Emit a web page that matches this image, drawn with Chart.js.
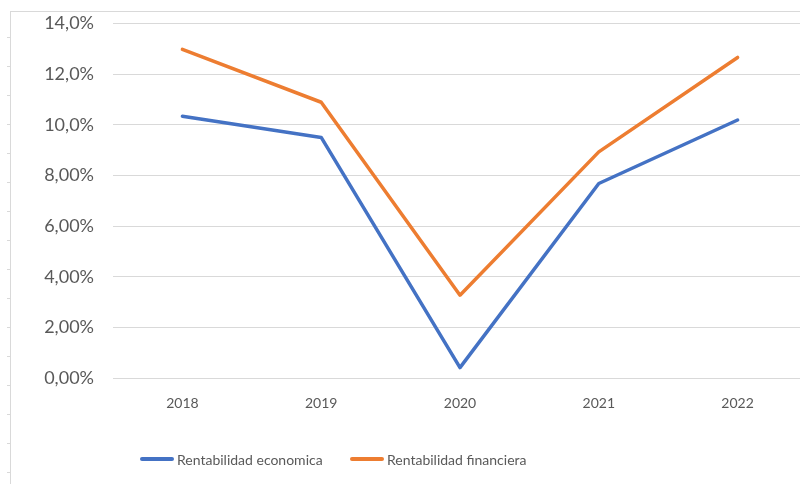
<!DOCTYPE html>
<html>
<head>
<meta charset="utf-8">
<script src="https://cdn.jsdelivr.net/npm/chart.js@4"></script>
<style>
  html, body { margin: 0; padding: 0; background: #fff; overflow: hidden; }
  #wrap { position: relative; width: 800px; height: 484px; overflow: hidden; }
  #chartBox { position: absolute; left: 0; top: 0; width: 810px; height: 484px; }
  .frame { position: absolute; left: 10px; top: 11px; right: 0; bottom: 0;
           border-left: 1px solid #d9d9d9; border-top: 1px solid #d9d9d9; }
  .marks { position: absolute; left: 7px; top: 37px; width: 3px; bottom: 0;
           background: repeating-linear-gradient(to bottom, #d9d9d9 0, #d9d9d9 1px, transparent 1px, transparent 29px); }
  #legend { position: absolute; top: 449px; left: 0; font-family: Lato, "Liberation Sans", sans-serif;
            font-size: 14px; color: #595959; }
  .item { position: absolute; white-space: nowrap; display: flex; align-items: center; height: 20px; }
  .swatch { display: inline-block; width: 34px; height: 4px; border-radius: 2px; margin-right: 3px; }
</style>
</head>
<body>
<div id="wrap">
  <div class="frame"></div>
  <div class="marks"></div>
  <div id="chartBox"><canvas id="chart"></canvas></div>
  <div id="legend"></div>
</div>
<script>
// data
const years = ['2018', '2019', '2020', '2021', '2022'];
const seriesNames = ['Rentabilidad economica', 'Rentabilidad financiera'];
const economica = [10.34, 9.50, 0.41, 7.68, 10.19];
const financiera = [12.98, 10.89, 3.27, 8.93, 12.66];
const yTickLabels = ['0,00%', '2,00%', '4,00%', '6,00%', '8,00%', '10,0%', '12,0%', '14,0%'];
const colors = ['#4472C4', '#ED7D31'];

const yFont = { family: 'Lato, "Liberation Sans", sans-serif', size: 18 };
const xFont = { family: 'Lato, "Liberation Sans", sans-serif', size: 14 };

new Chart(document.getElementById('chart'), {
  type: 'line',
  data: {
    labels: years,
    datasets: [economica, financiera].map((vals, i) => ({
      label: seriesNames[i],
      data: vals,
      borderColor: colors[i],
      backgroundColor: colors[i],
      borderWidth: 3.5,
      pointRadius: 0,
      tension: 0,
      borderCapStyle: 'round',
      borderJoinStyle: 'round',
      fill: false
    }))
  },
  options: {
    responsive: true,
    maintainAspectRatio: false,
    animation: false,
    layout: { padding: { top: 23.5, right: 3, bottom: 54, left: 0 } },
    plugins: {
      legend: { display: false },
      tooltip: { enabled: false }
    },
    scales: {
      x: {
        offset: true,
        grid: { display: false, drawTicks: false },
        border: { display: false },
        ticks: { color: '#595959', font: xFont, padding: 17, maxRotation: 0 },
        afterFit: s => { s.height = 52; }
      },
      y: {
        min: 0,
        max: 14,
        grid: { color: '#d9d9d9', lineWidth: 1, drawTicks: false },
        border: { display: false },
        ticks: {
          stepSize: 2,
          color: '#595959',
          font: yFont,
          padding: 19,
          callback: (v, i) => yTickLabels[i]
        },
        afterFit: s => {
          s.width = 113;
          s.paddingTop = 0;
          s.paddingBottom = 0;
        }
      }
    }
  }
});

// legend below the plot
const legendPos = [140, 350];
const legend = document.getElementById('legend');
seriesNames.forEach((name, i) => {
  const item = document.createElement('div');
  item.className = 'item';
  item.style.left = legendPos[i] + 'px';
  const sw = document.createElement('span');
  sw.className = 'swatch';
  sw.style.background = colors[i];
  item.appendChild(sw);
  item.appendChild(document.createTextNode(name));
  legend.appendChild(item);
});
</script>
</body>
</html>
